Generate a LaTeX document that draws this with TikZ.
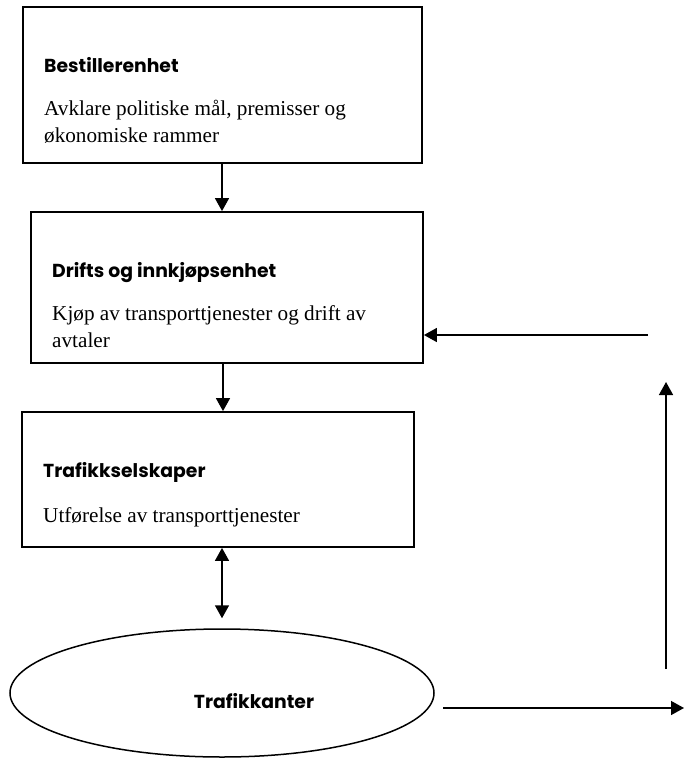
\documentclass[tikz,border=0pt]{standalone}
\usepackage{fontspec}
\setmainfont{Liberation Serif}
\newfontfamily\headfont{Poppins}
\usetikzlibrary{arrows.meta,shapes.geometric,positioning}

\tikzset{
	unit/.style={draw, line width=1.8pt, rectangle, inner sep=0pt},
	head/.style={anchor=base west, inner sep=0pt, font=\headfont\bfseries\fontsize{18.8}{22}\selectfont},
	desc/.style={anchor=base west, inner sep=0pt, align=left, font=\fontsize{21.2}{27}\selectfont},
	flow/.style={line width=1.5pt, -{Triangle[length=13pt,width=14pt]}},
}

\begin{document}
\begin{tikzpicture}[x=1pt,y=-1pt]
	\useasboundingbox (0,0) rectangle (684,758);
	%boxes
	\node[unit, minimum width=399pt, minimum height=156pt] (bestiller) at (222.5,85) {};
	\node[unit, minimum width=392pt, minimum height=151pt] (drift) at (227,287.5) {};
	\node[unit, minimum width=392pt, minimum height=135pt] (selskap) at (218,479.5) {};
	\node[draw, ellipse, line width=1.5pt, inner sep=0pt, minimum width=424pt, minimum height=128pt] (kunde) at (222,693) {};
	%texts (two-line texts sit on their last baseline)
	\node[head] (bestillerhead) at (44,72) {Bestillerenhet};
	\node[desc] (bestillertext) at (44,142) {Avklare politiske mål, premisser og\\økonomiske rammer};
	\node[head] (drifthead) at (52,277) {Drifts og innkjøpsenhet};
	\node[desc] (drifttext) at (52,347) {Kjøp av transporttjenester og drift av\\avtaler};
	\node[head] (selskaphead) at (43,477) {Trafikkselskaper};
	\node[desc] (selskaptext) at (43,522) {Utførelse av transporttjenester};
	\node[head, anchor=base] (kundehead) at (254,708) {Trafikkanter};
	%loop back
	\coordinate (ut) at (443,708);
	\coordinate (hjorne) at (684,708);
	\coordinate (opp1) at (666,669);
	\coordinate (opp2) at (666,382);
	\coordinate (inn) at (648,335);
	%arrows
	\draw[flow] (bestiller.south -| 222,0) -- (drift.north -| 222,0);
	\draw[flow] (drift.south -| 223,0) -- (selskap.north -| 223,0);
	\draw[flow, {Triangle[length=13pt,width=14pt]}-{Triangle[length=13pt,width=14pt]}, shorten >=10pt] (selskap.south -| kunde.north) -- (kunde.north);
	\draw[flow] (ut) -- (hjorne);
	\draw[flow] (opp1) -- (opp2);
	\draw[flow] (inn) -- (inn -| drift.east);
\end{tikzpicture}
\end{document}
